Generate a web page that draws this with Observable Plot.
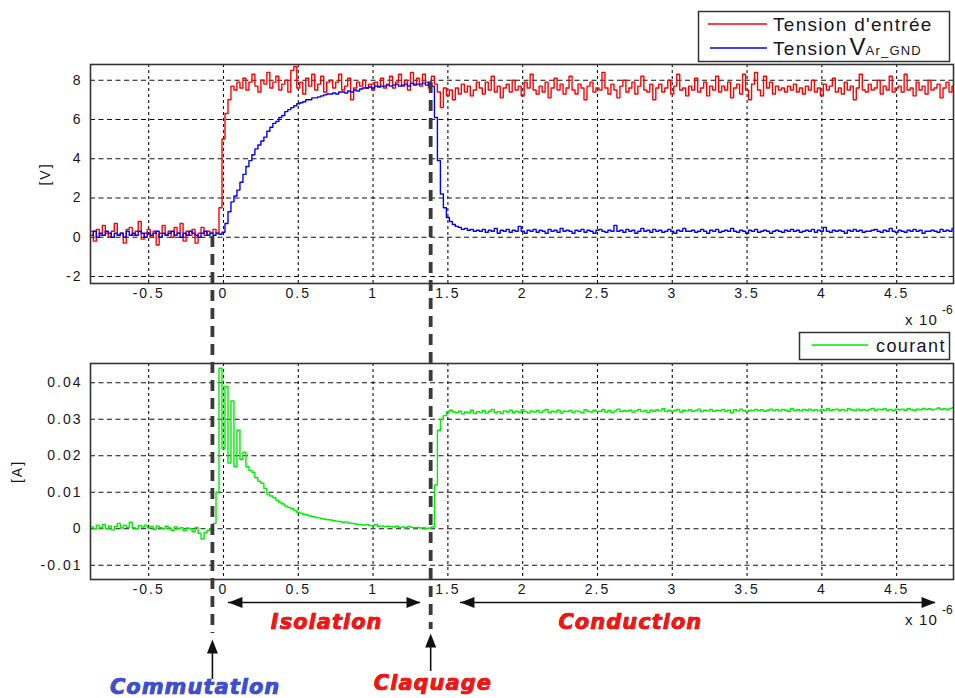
<!DOCTYPE html>
<html>
<head>
<meta charset="utf-8">
<script src="https://cdn.jsdelivr.net/npm/d3@7"></script>
<script src="https://cdn.jsdelivr.net/npm/@observablehq/plot@0.6"></script>
<style>
  html, body { margin: 0; padding: 0; background: #fff; }
  #fig { position: relative; width: 955px; height: 698px; overflow: hidden; background: #fff; }
  #fig > * { position: absolute; left: 0; }
</style>
</head>
<body>
<div id="fig"></div>
<script>
// ---- sample grid (oscilloscope, µs) ----
const t0 = -0.88, dt = 0.02;

// Input voltage "Tension d'entrée" [V]
const vIn = [
  0.3, -0.2, 0.4, 0.1, 0.6, 0.2, 0.0, 0.3, 0.7, 0.1,
  0.2, -0.3, 0.4, 0.5, 0.1, 0.3, 0.8, -0.1, 0.2, 0.4,
  0.0, 0.3, -0.4, 0.2, 0.6, 0.1, 0.3, 0.0, 0.5, 0.2,
  0.7, -0.2, 0.3, 0.1, 0.4, -0.3, 0.2, 0.5, 0.1, 0.3,
  0.2, 0.4, 0.2, 1.5, 5.0, 6.3, 7.0, 7.7, 7.5, 7.9,
  7.6, 8.1, 7.5, 7.9, 8.3, 7.7, 7.4, 8.0, 7.8, 8.4,
  7.6, 7.9, 8.2, 7.5, 7.8, 8.0, 7.4, 8.5, 8.7, 7.6,
  7.9, 7.3, 8.1, 7.7, 8.3, 7.5, 7.8, 8.2, 7.4, 7.9,
  8.0, 7.6, 7.9, 8.3, 7.5, 7.7, 8.1, 7.0, 7.6, 7.9,
  7.7, 8.0, 7.6, 7.8, 7.5, 7.9, 7.7, 8.1, 7.6, 7.8,
  8.2, 7.6, 7.9, 8.3, 7.7, 8.0, 7.5, 8.4, 7.8, 8.1,
  7.7, 8.3, 7.9, 7.6, 8.2, 7.8, 7.4, 6.6, 7.6, 7.2,
  7.5, 7.0, 7.6, 7.3, 7.8, 7.4, 7.7, 7.2, 7.5, 7.9,
  7.6, 7.3, 7.9, 7.5, 8.2, 7.4, 7.7, 7.1, 7.6, 7.8,
  7.4, 8.0, 7.5, 7.7, 7.2, 7.9, 7.6, 8.3, 7.5, 7.3,
  7.7, 7.4, 7.9, 7.1, 7.6, 8.1, 7.5, 7.8, 7.3, 7.6,
  8.2, 7.5, 7.3, 7.8, 7.6, 7.0, 7.7, 7.9, 7.4, 7.6,
  7.5, 8.4, 7.6, 7.3, 7.8, 7.5, 7.1, 7.7, 8.0, 7.4,
  7.6, 7.9, 7.3, 7.7, 8.2, 7.5, 7.4, 7.8, 7.0, 7.6,
  7.8, 7.4, 7.6, 8.0, 7.3, 7.7, 8.3, 7.5, 7.6, 7.2,
  7.7, 7.5, 8.1, 7.4, 7.6, 7.9, 7.2, 7.7, 7.5, 8.2,
  7.4, 7.7, 7.5, 7.9, 7.1, 7.6, 7.8, 7.3, 8.3, 7.5,
  7.0, 7.8, 8.4, 7.5, 7.2, 8.2, 7.6, 7.9, 7.3, 7.7,
  7.5, 7.6, 7.4, 7.7, 7.5, 7.8, 7.4, 7.6, 7.3, 7.7,
  7.5, 8.0, 7.4, 7.6, 7.2, 7.8, 7.5, 7.7, 8.1, 7.4,
  7.6, 7.3, 7.9, 7.5, 7.7, 7.0, 7.6, 8.3, 7.5, 7.4,
  7.8, 7.5, 7.6, 8.0, 7.3, 7.7, 7.5, 8.2, 7.4, 7.6,
  7.7, 7.4, 8.3, 7.5, 7.6, 7.2, 7.9, 7.5, 7.7, 7.3,
  8.0, 7.5, 7.6, 7.8, 7.1, 7.6, 7.9, 7.4, 7.7, 7.2
];

// Voltage "Tension V Ar_GND" [V]
const vAr = [
  0.1, 0.3, 0.0, 0.2, 0.1, 0.3, 0.2, 0.0, 0.2, 0.1,
  0.2, 0.0, 0.3, 0.1, 0.2, 0.1, 0.3, 0.2, 0.0, 0.2,
  0.1, 0.2, 0.3, 0.0, 0.2, 0.1, 0.2, 0.3, 0.1, 0.2,
  0.0, 0.2, 0.1, 0.3, 0.2, 0.1, 0.0, 0.2, 0.3, 0.1,
  0.2, 0.1, 0.2, 0.15, 0.25, 0.7, 1.3, 1.8, 2.1, 2.4,
  2.8, 3.2, 3.6, 3.9, 4.2, 4.5, 4.7, 4.9, 5.1, 5.4,
  5.6, 5.8, 5.9, 6.1, 6.2, 6.4, 6.5, 6.6, 6.7, 6.8,
  6.85, 6.9, 7.0, 7.0, 7.1, 7.1, 7.15, 7.2, 7.25, 7.3,
  7.3, 7.35, 7.3, 7.4, 7.4, 7.35, 7.45, 7.4, 7.5, 7.45,
  7.55, 7.6, 7.6, 7.65, 7.6, 7.7, 7.65, 7.7, 7.7, 7.75,
  7.7, 7.75, 7.8, 7.7, 7.75, 7.8, 7.7, 7.85, 7.75, 7.8,
  7.8, 7.85, 7.75, 7.9, 7.7, 6.1, 3.9, 2.2, 1.5, 1.0,
  0.8, 0.65, 0.55, 0.5, 0.4, 0.45, 0.35, 0.4, 0.3, 0.35,
  0.3, 0.4, 0.25, 0.35, 0.3, 0.45, 0.2, 0.35, 0.3, 0.4,
  0.25, 0.35, 0.3, 0.55, 0.3, 0.2, 0.35, 0.3, 0.4, 0.25,
  0.35, 0.3, 0.2, 0.4, 0.3, 0.35, 0.25, 0.45, 0.3, 0.35,
  0.3, 0.2, 0.35, 0.3, 0.4, 0.25, 0.35, 0.3, 0.2, 0.35,
  0.4, 0.3, 0.25, 0.35, 0.3, 0.6, 0.3, 0.35, 0.25, 0.4,
  0.3, 0.35, 0.2, 0.3, 0.45, 0.3, 0.35, 0.25, 0.4, 0.3,
  0.35, 0.25, 0.3, 0.4, 0.3, 0.2, 0.35, 0.3, 0.45, 0.3,
  0.3, 0.35, 0.25, 0.3, 0.4, 0.3, 0.2, 0.35, 0.3, 0.4,
  0.25, 0.3, 0.35, 0.3, 0.45, 0.3, 0.25, 0.35, 0.3, 0.2,
  0.35, 0.3, 0.4, 0.25, 0.3, 0.35, 0.3, 0.2, 0.3, 0.35,
  0.3, 0.25, 0.35, 0.3, 0.4, 0.3, 0.35, 0.25, 0.3, 0.35,
  0.3, 0.4, 0.25, 0.35, 0.3, 0.5, 0.3, 0.25, 0.35, 0.3,
  0.35, 0.3, 0.2, 0.35, 0.3, 0.4, 0.3, 0.35, 0.25, 0.3,
  0.3, 0.35, 0.4, 0.3, 0.25, 0.35, 0.3, 0.45, 0.3, 0.25,
  0.35, 0.3, 0.25, 0.35, 0.3, 0.4, 0.3, 0.35, 0.2, 0.3,
  0.3, 0.35, 0.3, 0.25, 0.4, 0.3, 0.35, 0.3, 0.45, 0.4
];

// Current "courant" [A]
const iCourant = [
  0.0005, 0.0, 0.001, 0.0003, 0.0012, 0.0, 0.0008, -0.0003, 0.0006, 0.0015,
  0.0002, 0.001, 0.0004, 0.0018, 0.0003, 0.0, 0.0009, 0.0005, 0.001, 0.0002,
  0.0006, -0.0002, 0.0008, 0.0003, 0.0, 0.0007, 0.0002, -0.0004, 0.0005, 0.0,
  0.0003, -0.0005, 0.0002, 0.0, -0.0008, 0.0004, -0.0012, -0.0028, -0.001, -0.0004,
  0.0, 0.0015, 0.01, 0.044, 0.022, 0.039, 0.018, 0.035, 0.017, 0.027,
  0.019, 0.021, 0.017, 0.016, 0.0155, 0.014, 0.013, 0.0125, 0.011, 0.0095,
  0.009, 0.0085, 0.0078, 0.0072, 0.0068, 0.0062, 0.0058, 0.0055, 0.005, 0.0045,
  0.0043, 0.004, 0.0038, 0.0035, 0.0034, 0.0031, 0.003, 0.0028, 0.0026, 0.0025,
  0.0024, 0.0022, 0.0021, 0.002, 0.0018, 0.0019, 0.0016, 0.0015, 0.0014, 0.0012,
  0.0012, 0.001, 0.0011, 0.0009, 0.0008, 0.0012, 0.0007, 0.0008, 0.0006, 0.0007,
  0.0006, 0.0005, 0.0007, 0.0004, 0.0005, 0.0003, 0.0006, 0.0004, 0.0003, 0.0004,
  0.0002, 0.0003, 0.0001, 0.0002, 0.0005, 0.012, 0.027, 0.030, 0.031, 0.032,
  0.0325, 0.032, 0.0318, 0.0322, 0.0315, 0.032, 0.0318, 0.0325, 0.0316, 0.0321,
  0.0319, 0.0324, 0.0317, 0.0322, 0.0327, 0.0318, 0.0321, 0.0316, 0.0323, 0.032,
  0.0325, 0.0318, 0.0322, 0.0319, 0.0326, 0.0321, 0.0317, 0.0323, 0.032, 0.0324,
  0.0319, 0.0323, 0.0327, 0.0318, 0.0322, 0.032, 0.0325, 0.0317, 0.0322, 0.0321,
  0.0324, 0.0319, 0.0323, 0.0321, 0.0318, 0.0326, 0.0322, 0.032, 0.0325, 0.0321,
  0.0322, 0.0327, 0.032, 0.0324, 0.0319, 0.0323, 0.0328, 0.0321, 0.0324, 0.0322,
  0.0325, 0.032, 0.0323, 0.0327, 0.0321, 0.0324, 0.0319, 0.0325, 0.0322, 0.0326,
  0.0323, 0.0329, 0.0321, 0.0325, 0.0322, 0.0324, 0.0327, 0.032, 0.0325, 0.0323,
  0.0326, 0.0322, 0.0324, 0.0328, 0.0321, 0.0325, 0.0323, 0.0327, 0.0322, 0.0325,
  0.0324, 0.0327, 0.0322, 0.0325, 0.0318, 0.0326, 0.0323, 0.0328, 0.0324, 0.0321,
  0.0325, 0.0323, 0.0327, 0.0324, 0.0326, 0.0322, 0.0325, 0.0328, 0.0324, 0.0326,
  0.0323, 0.0327, 0.0325, 0.0322, 0.0329, 0.0324, 0.0326, 0.0323, 0.0327, 0.0325,
  0.0328, 0.0324, 0.0326, 0.0323, 0.0327, 0.0325, 0.0329, 0.0324, 0.0326, 0.0328,
  0.0325, 0.0327, 0.0323, 0.0329, 0.0326, 0.0324, 0.0328, 0.0325, 0.0327, 0.0324,
  0.0327, 0.033, 0.0325, 0.0328, 0.0326, 0.0329, 0.0325, 0.0327, 0.0324, 0.0328,
  0.0326, 0.0328, 0.0325, 0.0329, 0.0327, 0.0324, 0.0328, 0.0326, 0.033, 0.0327,
  0.0329, 0.0326, 0.0328, 0.0331, 0.0327, 0.0329, 0.0326, 0.033, 0.0332, 0.0334
];

// ticks
const xTicks = [-0.5, 0, 0.5, 1, 1.5, 2, 2.5, 3, 3.5, 4, 4.5];
const vTicks = [-2, 0, 2, 4, 6, 8];
const aTicks = [-0.01, 0, 0.01, 0.02, 0.03, 0.04];

// annotations (times in µs)
const eventNames = ["Commutation", "Claquage"];
const eventTimes = [-0.074, 1.385];
const eventLabelT = [-0.19, 1.40];
const phaseNames = ["Isolation", "Conduction"];
const phaseStart = [0.033, 1.584];
const phaseEnd = [1.317, 4.76];
const phaseLabelT = [0.69, 2.72];

// ---- build ----
const samples = vIn.map((v, i) => ({t: +(t0 + i * dt).toFixed(3), vin: v, var: vAr[i], cur: iCourant[i]}));
const xDomain = [-0.889, 4.88];
const FONT = '"Liberation Sans", Arial, sans-serif';
const baseStyle = {fontFamily: FONT, fontSize: "14px", letterSpacing: "2px", color: "#15151f", background: "transparent", overflow: "visible"};
const fmt = d => String(d);
const gridXo = {stroke: "#111", strokeOpacity: 1, strokeWidth: 1.1, strokeDasharray: "3,3"};
const gridYo = {stroke: "#111", strokeOpacity: 1, strokeWidth: 1.1, strokeDasharray: "5,3.5"};

const p1 = Plot.plot({
  width: 955, height: 330, marginLeft: 90, marginRight: 2, marginTop: 64, marginBottom: 47,
  style: baseStyle,
  x: {domain: xDomain}, y: {domain: [-2.36, 8.8]},
  marks: [
    Plot.gridX(xTicks, gridXo),
    Plot.gridY(vTicks, gridYo),
    Plot.line(samples, {x: "t", y: "vin", stroke: "#ff0000", strokeWidth: 1.4, curve: "step", clip: true}),
    Plot.line(samples, {x: "t", y: "var", stroke: "#0000ff", strokeWidth: 1.4, curve: "step", clip: true}),
    Plot.frame({stroke: "#333", strokeWidth: 1.6}),
    Plot.axisX(xTicks, {tickSize: 0, tickPadding: 5, tickFormat: fmt, label: null, fontSize: 14}),
    Plot.axisY(vTicks, {tickSize: 0, tickPadding: 8, tickFormat: fmt, label: "[V]", labelAnchor: "center", labelArrow: "none", labelOffset: 50, fontSize: 14})
  ]
});
p1.style.top = "0px";

const p2 = Plot.plot({
  width: 955, height: 290, marginLeft: 90, marginRight: 2, marginTop: 33, marginBottom: 41,
  style: baseStyle,
  x: {domain: xDomain}, y: {domain: [-0.01389, 0.04529]},
  marks: [
    Plot.gridX(xTicks, gridXo),
    Plot.gridY(aTicks, gridYo),
    Plot.line(samples, {x: "t", y: "cur", stroke: "#00ee00", strokeWidth: 1.4, curve: "step", clip: true}),
    Plot.frame({stroke: "#333", strokeWidth: 1.6}),
    Plot.axisX(xTicks, {tickSize: 0, tickPadding: 5, tickFormat: fmt, label: null, fontSize: 14}),
    Plot.axisY(aTicks, {tickSize: 0, tickPadding: 8, tickFormat: fmt, label: "[A]", labelAnchor: "center", labelArrow: "none", labelOffset: 78, fontSize: 14})
  ]
});
p2.style.top = "330px";

// overlay: y in page pixels, x in µs (same scale as the plots)
const arrowHead = {draw(ctx) { ctx.moveTo(0, 0); ctx.lineTo(-5.5, 14); ctx.lineTo(5.5, 14); ctx.closePath(); }};
const dashTop = [236, 82], dashBottom = [633, 629];
const arrowTip = [639, 633], arrowTail = [679, 671];
const arrowY = 602;
const txt = {fontSize: 21, fontWeight: "bold", fontStyle: "italic", fontFamily: "DejaVu Sans", strokeWidth: 0.7, paintOrder: "stroke"};

const ov = Plot.plot({
  width: 955, height: 698, marginLeft: 90, marginRight: 2, marginTop: 0, marginBottom: 0,
  style: {background: "transparent", overflow: "visible", letterSpacing: "1px"},
  x: {domain: xDomain, axis: null}, y: {domain: [698, 0], axis: null},
  marks: [
    Plot.ruleX(eventTimes, {x: d => d, y1: (d, i) => dashTop[i], y2: (d, i) => dashBottom[i], stroke: "#3a3a3a", strokeWidth: 3.8, strokeDasharray: "11,7"}),
    Plot.ruleX(eventTimes, {x: d => d, y1: (d, i) => arrowTip[i] + 10, y2: (d, i) => arrowTail[i], stroke: "#111", strokeWidth: 1.6}),
    Plot.dot(eventTimes, {x: d => d, y: (d, i) => arrowTip[i], symbol: arrowHead, fill: "#111", stroke: "none"}),
    Plot.ruleY(phaseNames, {y: () => arrowY, x1: (d, i) => phaseStart[i], x2: (d, i) => phaseEnd[i], stroke: "#111", strokeWidth: 1.6}),
    Plot.dot(phaseNames, {x: (d, i) => phaseStart[i], y: () => arrowY, symbol: arrowHead, rotate: -90, fill: "#111", stroke: "none"}),
    Plot.dot(phaseNames, {x: (d, i) => phaseEnd[i], y: () => arrowY, symbol: arrowHead, rotate: 90, fill: "#111", stroke: "none"}),
    Plot.text(phaseNames, {x: (d, i) => phaseLabelT[i], y: () => 622, text: d => d, fill: "#ff1010", stroke: "#8a0000", ...txt}),
    Plot.text([eventNames[0]], {x: () => eventLabelT[0], y: () => 687, text: d => d, fill: "#3b4fd6", stroke: "#1a2580", ...txt}),
    Plot.text([eventNames[1]], {x: () => eventLabelT[1], y: () => 683, text: d => d, fill: "#ff1010", stroke: "#8a0000", ...txt})
  ]
});
ov.style.top = "0px";

// legends and exponent labels
const ns = "http://www.w3.org/2000/svg";
const leg = document.createElementNS(ns, "svg");
leg.setAttribute("width", 955); leg.setAttribute("height", 698);
leg.style.top = "0px";
leg.innerHTML = `
<g font-family='${FONT.replace(/"/g, "")}' fill="#15151f">
  <rect x="698.5" y="11.5" width="251" height="50" fill="#fff" stroke="#333" stroke-width="1.5"/>
  <line x1="708" x2="767" y1="24" y2="24" stroke="#ff0000" stroke-width="1.3"/>
  <text x="773" y="31" font-size="19" letter-spacing="1.3">Tension d'entrée</text>
  <line x1="710" x2="767" y1="48" y2="48" stroke="#0000ff" stroke-width="1.3"/>
  <text x="773" y="55" font-size="19" letter-spacing="1.3">Tension<tspan font-size="24" dx="2" letter-spacing="0">V</tspan><tspan font-size="13" letter-spacing="1.2">Ar_GND</tspan></text>
  <rect x="799.5" y="332.5" width="150" height="27" fill="#fff" stroke="#333" stroke-width="1.5"/>
  <line x1="812" x2="868" y1="345" y2="345" stroke="#00ee00" stroke-width="1.3"/>
  <text x="876" y="352" font-size="18" letter-spacing="1.4">courant</text>
  <text x="905" y="325" font-size="15" letter-spacing="1.2">x 10</text>
  <text x="942" y="314" font-size="12">-6</text>
  <text x="905" y="625" font-size="15" letter-spacing="1.2">x 10</text>
  <text x="942" y="614" font-size="12">-6</text>
</g>`;

const fig = document.getElementById("fig");
fig.append(p1, p2, ov, leg);
</script>
</body>
</html>
